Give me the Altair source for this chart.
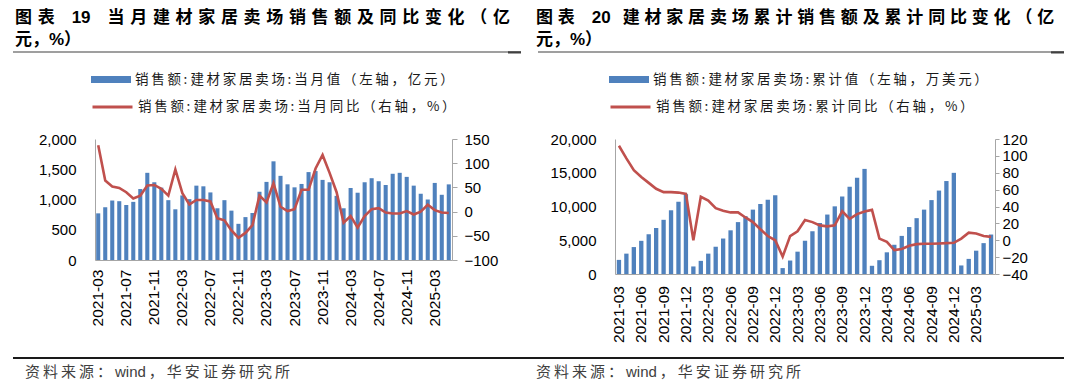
import altair as alt
import pandas as pd

# ---------------- data ----------------
months = [str(p) for p in pd.period_range("2021-03", "2025-05", freq="M")]

monthly_sales = [771, 872, 983, 972, 911, 961, 1173, 1441, 1285, 1196,
                 989, 838, 1067, 1006, 1229, 1218, 1117, 855, 989, 816, 598, 709,
                 777, 1128, 1291, 1631, 1391, 1251, 1201, 1257, 1453, 1470, 1324, 1285,
                 1061, 855, 1190, 1112, 1285, 1352, 1302, 1240, 1425, 1441, 1374, 1229,
                 1095, 1000, 1274, 1078, 1250]
monthly_yoy = [137, 64, 52, 49, 40, 27, 33, 54, 55, 47,
               33, 87, 38, 15, 24, 24, 21, -14, -18, -39, -54, -44,
               -28, 33, 19, 59, 10, 1, 5, 45, 45, 89, 117, 80,
               40, -23, -9, -33, -9, 5, 7, -2, -4, -4, 1, -6,
               0, 14, 3, -2, -3]
cum_sales = [2092, 3017, 3990, 4915, 5888, 6812, 8029, 9440, 10705, 11824,
             1119, 1946, 3017, 4039, 5255, 6472, 7688, 8564, 9537, 10365, 10997, 11678,
             876, 1995, 3309, 4915, 6326, 7542, 8807, 10024, 11484, 12944, 14257, 15571,
             1217, 2044, 3212, 4331, 5645, 6958, 8272, 9537, 10949, 12360, 13771, 14987,
             1265, 2238, 3455, 4574, 5848]
cum_yoy = [112, 97, 83, 75, 68, 61, 57, 57, 56.5, 55,
           0, 51.5, 47, 38, 35, 33, 33, 27, 21.5, 13, 5, 0,
           -19.4, 5, 10.6, 24, 21.5, 17.6, 16.4, 17.6, 34.4, 25.4, 31, 34,
           36, 2, -2, -11.6, -10.4, -6.5, -4.6, -4.2, -4.2, -3.8, -3.4, -3.0,
           2, 9, 8, 5, 4]

left_ticks = ["2021-03", "2021-07", "2021-11", "2022-03", "2022-07", "2022-11",
              "2023-03", "2023-07", "2023-11", "2024-03", "2024-07", "2024-11", "2025-03"]
right_ticks = ["2021-03", "2021-06", "2021-09", "2021-12", "2022-03", "2022-06",
               "2022-09", "2022-12", "2023-03", "2023-06", "2023-09", "2023-12",
               "2024-03", "2024-06", "2024-09", "2024-12", "2025-03"]

left_title = ["图表 19 当月建材家居卖场销售额及同比变化（亿", "元，%）"]
right_title = ["图表 20 建材家居卖场累计销售额及累计同比变化（亿", "元，%）"]
left_bar_label = "销售额: 建材家居卖场: 当月值（左轴，亿元）"
left_line_label = "销售额: 建材家居卖场: 当月同比（右轴，%）"
right_bar_label = "销售额: 建材家居卖场: 累计值（左轴，万美元）"
right_line_label = "销售额: 建材家居卖场: 累计同比（右轴，%）"
source_text = "资料来源：wind，华安证券研究所"

BLUE = "#4F81BD"
RED = "#C0504D"
LATIN = "Liberation Sans"
CJK = "Noto Sans CJK SC"
AXIS_GRAY = "#A6A6A6"


def spread(s, gap):
    """insert a spacing character between CJK glyphs (mimics letter-spacing)"""
    out = ""
    for i, ch in enumerate(s):
        out += ch
        if i < len(s) - 1 and ch != " " and s[i + 1] != " ":
            out += gap
    return out


def title_line1(t, gap, after_num):
    head, num, rest = t.split(" ")
    return spread(head, gap) + "\u2003" + num + after_num + spread(rest, gap)


def text_layer(text, x, y, size, weight="normal", color="#000000", font=LATIN + ", " + CJK):
    return alt.Chart(pd.DataFrame({"t": [text]})).mark_text(
        align="left", baseline="middle", font=font, fontSize=size,
        fontWeight=weight, color=color
    ).encode(text="t:N", x=alt.value(x), y=alt.value(y))


def rule_layer(x1, x2, y, color, width):
    return alt.Chart(pd.DataFrame({"r": [0]})).mark_rule(
        color=color, strokeWidth=width
    ).encode(x=alt.value(x1), x2=alt.value(x2), y=alt.value(y))


BAR_SYMBOL = "M-1,-0.17L1,-0.17L1,0.17L-1,0.17Z"


def panel(values, yoy, ticks, bar_label, line_label, title, width, height,
          ldom, lvals, rdom, rvals, pad_outer, x_label_pad, r_tick, r_pad,
          title_x, title_gap, after_num, rule_x1, rule_x2, src_rule_x1, src_rule_x2,
          src_x, legend_x, key):
    df = pd.DataFrame({"month": months, "sales": values, "yoy": yoy})
    bar_name = spread(bar_label, "\u2009")
    line_name = spread(line_label, "\u2009")
    df["bar_" + key] = bar_name
    df["line_" + key] = line_name

    xenc = alt.X("month:O", sort=None,
                 scale=alt.Scale(paddingInner=0.42, paddingOuter=pad_outer),
                 axis=alt.Axis(values=ticks, title=None, labelAngle=-90, ticks=False,
                               labelFont=LATIN, labelFontSize=15.5, labelColor="#000000",
                               labelPadding=x_label_pad, domainColor=AXIS_GRAY,
                               domainWidth=1, grid=False))

    bars = alt.Chart(df).mark_bar().encode(
        x=xenc,
        y=alt.Y("sales:Q", scale=alt.Scale(domain=ldom, nice=False, zero=True),
                axis=alt.Axis(values=lvals, format=",.0f", title=None, ticks=False,
                              labelPadding=19, labelFont=LATIN, labelFontSize=15,
                              labelColor="#000000", domainColor=AXIS_GRAY, grid=False)),
        color=alt.Color("bar_" + key + ":N",
                        scale=alt.Scale(domain=[bar_name], range=[BLUE]),
                        legend=alt.Legend(orient="none", legendX=legend_x, legendY=-79.5,
                                          title=None, symbolType=BAR_SYMBOL, symbolSize=1600,
                                          symbolStrokeWidth=0, labelFont=CJK,
                                          labelFontSize=13.5, labelColor="#1a1a1a",
                                          labelLimit=800, labelOffset=4, padding=0)),
    )

    line = alt.Chart(df).mark_line(strokeWidth=2.6).encode(
        x=alt.X("month:O", sort=None),
        y=alt.Y("yoy:Q", scale=alt.Scale(domain=rdom, nice=False, zero=False),
                axis=alt.Axis(orient="right", values=rvals, format=".0f", title=None,
                              tickSize=r_tick, tickColor=AXIS_GRAY, labelPadding=r_pad,
                              labelFont=LATIN, labelFontSize=15, labelColor="#000000",
                              domainColor=AXIS_GRAY, grid=False)),
        stroke=alt.Stroke("line_" + key + ":N",
                          scale=alt.Scale(domain=[line_name], range=[RED]),
                          legend=alt.Legend(orient="none", legendX=legend_x, legendY=-53.5,
                                            title=None, symbolType="stroke", symbolSize=1600,
                                            symbolStrokeWidth=3, labelFont=CJK,
                                            labelFontSize=13.5, labelColor="#1a1a1a",
                                            labelLimit=800, labelOffset=4, padding=0)),
    )

    deco = [
        text_layer(title_line1(title[0], title_gap, after_num), title_x, -121.5, 17, "bold"),
        text_layer(title[1], title_x, -99.0, 17, "bold"),
        rule_layer(rule_x1, rule_x2, -87.0, "#404040", 1.2),
        rule_layer(rule_x2 - 13, rule_x2, -86.6, "#404040", 2.2),
        rule_layer(src_rule_x1, src_rule_x2, 219.0, "#1a1a1a", 1.8),
        text_layer(spread(source_text.replace("wind", "W"), "\u2009").replace("W", "wind"),
                   src_x, 232.5, 15, "normal", "#404040"),
    ]

    return alt.layer(bars, line, *deco).resolve_scale(
        y="independent").properties(width=width, height=height)


left = panel(monthly_sales, monthly_yoy, left_ticks, left_bar_label, left_line_label,
             left_title, 357, 121, [0, 2000], [0, 500, 1000, 1500, 2000],
             [-100, 150], [-100, -50, 0, 50, 100, 150], 0.17, 9, 5, 7,
             -80, "\u2004", "\u2003", -82, 426, -82, 446, -70, -4, "l")

right = panel(cum_sales, cum_yoy, right_ticks, right_bar_label, right_line_label,
              right_title, 380, 135, [0, 20000], [0, 5000, 10000, 15000, 20000],
              [-40, 120], [-40, -20, 0, 20, 40, 60, 80, 100, 120], 0.24, 11.5, 4, 3,
              -79, "\u2009\u200a", "\u2002\u2009", -77, 449, -74, 449, -79, -6, "r")

chart = alt.hconcat(left, right, spacing=163, bounds="flush").resolve_scale(
    color="independent", stroke="independent", x="independent", y="independent"
).properties(
    padding={"left": 4, "top": 0, "right": 4, "bottom": 0}
).configure_view(strokeWidth=0).configure_axis(grid=False)

chart.save("out.html", embed_options={"renderer": "svg", "actions": False})
